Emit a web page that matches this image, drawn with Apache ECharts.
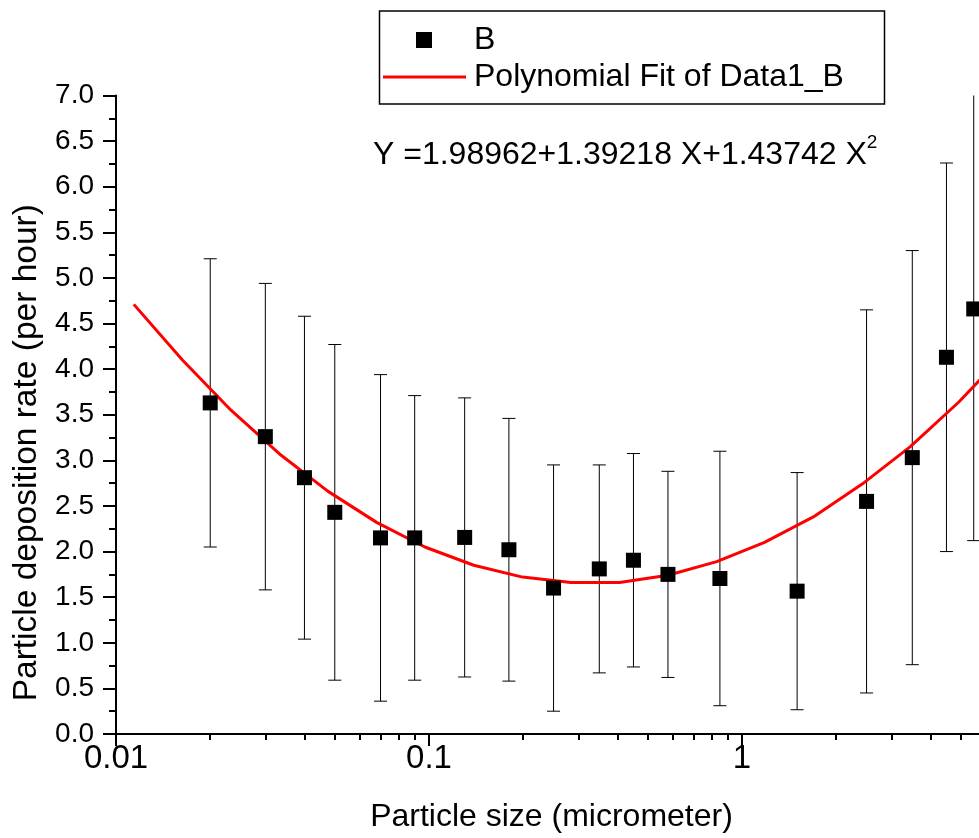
<!DOCTYPE html>
<html>
<head>
<meta charset="utf-8">
<script src="https://cdn.jsdelivr.net/npm/echarts@6/dist/echarts.min.js"></script>
<style>
html,body{margin:0;padding:0;overflow:hidden;background:#fff;width:979px;height:838px;}
#c{width:1100px;height:838px;}
</style>
</head>
<body>
<div id="c"></div>
<script>
// Data
const xVals = [0.02, 0.03, 0.04, 0.05, 0.07, 0.09, 0.13, 0.18, 0.25, 0.35, 0.45, 0.58, 0.85, 1.5, 2.5, 3.5, 4.5, 5.5];
const yVals = [3.63, 3.26, 2.81, 2.43, 2.15, 2.15, 2.155, 2.02, 1.60, 1.81, 1.905, 1.75, 1.705, 1.566, 2.55, 3.03, 4.13, 4.66];
const yErr  = [1.58, 1.68, 1.77, 1.84, 1.79, 1.56, 1.53, 1.44, 1.35, 1.14, 1.17, 1.13, 1.395, 1.30, 2.10, 2.27, 2.13, 2.54];
const fitX = [0.0114, 0.0163, 0.0233, 0.0333, 0.0476, 0.068, 0.097, 0.139, 0.199, 0.284, 0.406, 0.58, 0.83, 1.18, 1.69, 2.42, 3.45, 4.93, 7.05, 10];
const fitY = [4.71, 4.10, 3.55, 3.07, 2.66, 2.32, 2.05, 1.85, 1.72, 1.66, 1.66, 1.74, 1.89, 2.10, 2.38, 2.74, 3.15, 3.64, 4.20, 4.82];
const xTickValues = [0.01, 0.1, 1, 10];
const xTickLabels = ['0.01', '0.1', '1', '10'];
const xMinorTicks = [0.02, 0.03, 0.04, 0.05, 0.06, 0.07, 0.08, 0.09, 0.2, 0.3, 0.4, 0.5, 0.6, 0.7, 0.8, 0.9, 2, 3, 4, 5, 6, 7, 8, 9];
const seriesName = 'B';
const fitName = 'Polynomial Fit of Data1_B';
const equationText = 'Y =1.98962+1.39218 X+1.43742 X';
const equationSup = '2';
const xTitle = 'Particle size (micrometer)';
const yTitle = 'Particle deposition rate (per hour)';

const FONT = '"Liberation Sans", Arial, sans-serif';

const scatterData = xVals.map((x, i) => [x, yVals[i]]);
const errData = xVals.map((x, i) => [x, yVals[i] - yErr[i], yVals[i] + yErr[i]]);
const fitData = fitX.map((x, i) => [x, fitY[i]]);

const chart = echarts.init(document.getElementById('c'), null, {renderer: 'canvas'});

chart.setOption({
  animation: false,
  backgroundColor: '#fff',
  grid: {left: 116, right: 45, top: 95.5, bottom: 102, containLabel: false},
  xAxis: [{
    type: 'log', logBase: 10, min: 0.01, max: 10,
    position: 'bottom',
    name: xTitle, nameLocation: 'middle', nameGap: 67,
    nameTextStyle: {fontFamily: FONT, fontSize: 32, color: '#000', padding: [0, 68, 0, 0]},
    axisLine: {show: true, lineStyle: {color: '#000', width: 2}},
    axisTick: {show: true, inside: false, length: 12, lineStyle: {color: '#000', width: 2}},
    axisLabel: {
      fontFamily: FONT, fontSize: 33, color: '#000', margin: 8,
      formatter: v => {
        let best = 0, bd = Infinity;
        xTickValues.forEach((t, i) => { const d = Math.abs(Math.log10(v) - Math.log10(t)); if (d < bd) { bd = d; best = i; } });
        return xTickLabels[best];
      }
    },
    splitLine: {show: false}
  }, {
    type: 'log', logBase: 10, min: 0.01, max: 10,
    position: 'bottom',
    axisLine: {show: false},
    axisTick: {show: true, inside: false, length: 6, customValues: xMinorTicks, lineStyle: {color: '#000', width: 2}},
    axisLabel: {show: false},
    splitLine: {show: false}
  }],
  yAxis: {
    type: 'value', min: 0, max: 7, interval: 0.5,
    name: yTitle, nameLocation: 'middle', nameGap: 72,
    nameTextStyle: {fontFamily: FONT, fontSize: 33.5, color: '#000', padding: [0, 76, 0, 0]},
    axisLine: {show: true, lineStyle: {color: '#000', width: 2}},
    axisTick: {show: true, inside: false, length: 13, lineStyle: {color: '#000', width: 2}},
    minorTick: {show: true, splitNumber: 2, length: 7, lineStyle: {color: '#000', width: 2}},
    axisLabel: {fontFamily: FONT, fontSize: 28, color: '#000', margin: 22, formatter: v => v.toFixed(1)},
    splitLine: {show: false},
    minorSplitLine: {show: false}
  },
  series: [{
    type: 'custom',
    name: 'err',
    clip: true,
    z: 1,
    renderItem: (params, api) => {
      const x = api.value(0);
      const lo = api.coord([x, api.value(1)]);
      const hi = api.coord([x, api.value(2)]);
      const w = 6.5;
      const style = {stroke: '#000', lineWidth: 1};
      return {
        type: 'group',
        children: [
          {type: 'line', shape: {x1: lo[0], y1: lo[1], x2: hi[0], y2: hi[1]}, style},
          {type: 'line', shape: {x1: lo[0] - w, y1: lo[1], x2: lo[0] + w, y2: lo[1]}, style},
          {type: 'line', shape: {x1: hi[0] - w, y1: hi[1], x2: hi[0] + w, y2: hi[1]}, style}
        ]
      };
    },
    encode: {x: 0, y: [1, 2]},
    data: errData
  }, {
    type: 'line',
    name: fitName,
    data: fitData,
    clip: true,
    z: 2,
    showSymbol: false,
    symbol: 'none',
    smooth: false,
    lineStyle: {color: '#ff0000', width: 3}
  }, {
    type: 'scatter',
    name: seriesName,
    data: scatterData,
    z: 3,
    symbol: 'rect',
    symbolSize: 15,
    itemStyle: {color: '#000', opacity: 1}
  }],
  graphic: [
    {type: 'rect', shape: {x: 379.5, y: 11, width: 505, height: 93}, style: {fill: 'none', stroke: '#000', lineWidth: 1.5}, z: 10},
    {type: 'rect', shape: {x: 416, y: 32, width: 16, height: 16}, style: {fill: '#000'}, z: 10},
    {type: 'text', x: 474, y: 40, style: {text: seriesName, fontFamily: FONT, fontSize: 32, fill: '#000', verticalAlign: 'middle', align: 'left'}, z: 10},
    {type: 'line', shape: {x1: 383, y1: 77, x2: 466, y2: 77}, style: {stroke: '#ff0000', lineWidth: 3}, z: 10},
    {type: 'text', x: 474, y: 77, style: {text: fitName, fontFamily: FONT, fontSize: 32, fill: '#000', verticalAlign: 'middle', align: 'left'}, z: 10},
    {type: 'text', x: 373, y: 152, z: 10, style: {
      text: '{m|' + equationText + '}{s|' + equationSup + '}',
      verticalAlign: 'middle', align: 'left',
      rich: {
        m: {fontFamily: FONT, fontSize: 32, fill: '#000', lineHeight: 38, verticalAlign: 'bottom'},
        s: {fontFamily: FONT, fontSize: 19, fill: '#000', lineHeight: 38, verticalAlign: 'top'}
      }
    }}
  ]
});
</script>
</body>
</html>
